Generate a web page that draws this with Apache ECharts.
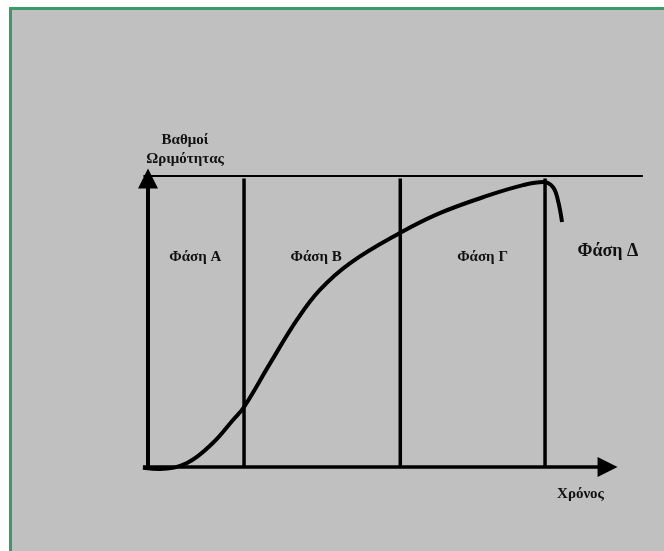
<!DOCTYPE html>
<html>
<head>
<meta charset="utf-8">
<script src="https://cdn.jsdelivr.net/npm/echarts@6/dist/echarts.min.js"></script>
<style>
  html, body { margin: 0; padding: 0; background: #fff; }
  #main { width: 664px; height: 551px; }
</style>
</head>
<body>
<div id="main"></div>
<script>
// maturity curve (time units 0-100, maturity 0-100)
var curveX = [-1.1, 2.6, 8.5, 14.1, 18.5, 20.9, 26.6, 32.4, 37.4, 44.0, 54.8, 63.5, 74.4, 81.6, 86.0, 88.1, 89.2, 90.1];
var curveY = [-0.3, -0.7, 1.4, 8.3, 16.3, 20.8, 36.0, 51.0, 61.4, 70.7, 81.1, 88.0, 94.3, 97.7, 98.8, 97.1, 92.5, 84.9];

// axes, phase boundaries and ceiling
var axisEnd = 100;
var axisStart = -1.1;
var phaseBounds = [20.9, 54.9, 86.4];
var boundTop = 100;
var ceilingY = 100.9;
var ceilingX = [-1, 107.7];

// phase labels
var phaseNames = ['Φάση Α', 'Φάση Β', 'Φάση Γ', 'Φάση Δ'];
var phaseLabelX = [10.3, 36.6, 72.8, 100.1];
var phaseLabelY = [72.8, 72.8, 72.8, 74.9];

var yName = ['Βαθμοί', 'Ωριμότητας'];
var xName = 'Χρόνος';

var chart = echarts.init(document.getElementById('main'));
var font = 'Liberation Serif';
var ink = '#000';
var textInk = '#111';

function arrowTip(pt, rotate) {
  return {
    value: pt,
    symbol: 'triangle',
    symbolSize: [20, 20],
    symbolRotate: rotate,
    itemStyle: { color: ink }
  };
}

var series = [];

// x axis with arrow
series.push({
  type: 'line',
  data: [[axisStart, 0], arrowTip([axisEnd, 0], -90)],
  symbol: 'none',
  silent: true,
  z: 4,
  lineStyle: { color: ink, width: 3.5 }
});

// y axis with arrow
series.push({
  type: 'line',
  data: [[0, -0.3], arrowTip([0, axisEnd], 0)],
  symbol: 'none',
  silent: true,
  z: 4,
  lineStyle: { color: ink, width: 4 }
});

// ceiling line
series.push({
  type: 'line',
  data: [[ceilingX[0], ceilingY], [ceilingX[1], ceilingY]],
  symbol: 'none',
  silent: true,
  lineStyle: { color: ink, width: 2 }
});

// phase boundary lines
phaseBounds.forEach(function (b) {
  series.push({
    type: 'line',
    data: [[b, 0], [b, boundTop]],
    symbol: 'none',
    silent: true,
    lineStyle: { color: ink, width: 3.5 }
  });
});

// curve
series.push({
  type: 'line',
  data: curveX.map(function (x, i) { return [x, curveY[i]]; }),
  symbol: 'none',
  smooth: 0.4,
  silent: true,
  z: 3,
  lineStyle: { color: ink, width: 4 }
});

// phase labels
series.push({
  type: 'scatter',
  symbolSize: 0,
  silent: true,
  itemStyle: { color: 'transparent', opacity: 1 },
  data: phaseNames.map(function (n, i) {
    return {
      name: n,
      value: [phaseLabelX[i], phaseLabelY[i]],
      label: i === 3 ? { fontSize: 18 } : {}
    };
  }),
  label: {
    show: true,
    position: 'inside',
    formatter: '{b}',
    color: textInk,
    opacity: 1,
    textBorderWidth: 0,
    fontFamily: font,
    fontWeight: 'bold',
    fontSize: 15
  }
});

var hiddenAxis = {
  axisLine: { show: false },
  axisTick: { show: false },
  axisLabel: { show: false },
  splitLine: { show: false }
};

chart.setOption({
  animation: false,
  backgroundColor: '#fff',
  grid: { left: 141.1, right: 19.7, top: 174.2, bottom: 79.7 },
  xAxis: Object.assign({ type: 'value', min: -1.5, max: 108 }, hiddenAxis),
  yAxis: Object.assign({ type: 'value', min: -1.5, max: 101.5 }, hiddenAxis),
  graphic: [
    {
      type: 'rect', z: -10, silent: true,
      shape: { x: 10.5, y: 8.5, width: 700, height: 600 },
      style: { fill: '#c0c0c0', stroke: '#3a9a6a', lineWidth: 3 }
    },
    {
      type: 'text', silent: true, x: 185, y: 140,
      style: { text: yName[0], align: 'center', verticalAlign: 'middle', fill: textInk, font: 'bold 15px "' + font + '"' }
    },
    {
      type: 'text', silent: true, x: 185, y: 159,
      style: { text: yName[1], align: 'center', verticalAlign: 'middle', fill: textInk, font: 'bold 15px "' + font + '"' }
    },
    {
      type: 'text', silent: true, x: 580.5, y: 494,
      style: { text: xName, align: 'center', verticalAlign: 'middle', fill: textInk, font: 'bold 15px "' + font + '"' }
    }
  ],
  series: series
});
</script>
</body>
</html>
